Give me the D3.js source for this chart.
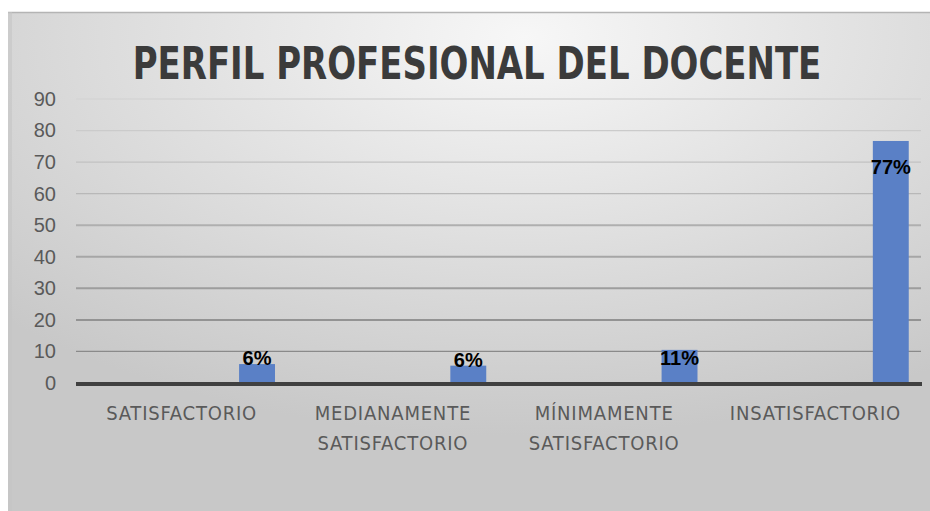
<!DOCTYPE html>
<html>
<head>
<meta charset="utf-8">
<script src="https://cdn.jsdelivr.net/npm/d3@7"></script>
<style>
  body { margin: 0; background: #fff; }
  svg { display: block; }
</style>
</head>
<body>
<svg class="mainSvg" width="930" height="511"></svg>
<script>
// data
var categories = ["SATISFACTORIO", "MEDIANAMENTE SATISFACTORIO", "MÍNIMAMENTE SATISFACTORIO", "INSATISFACTORIO"];
var categoryLines = [["SATISFACTORIO"], ["MEDIANAMENTE", "SATISFACTORIO"], ["MÍNIMAMENTE", "SATISFACTORIO"], ["INSATISFACTORIO"]];
var values = [6, 5.5, 10.5, 76.7];
var yTicks = [0, 10, 20, 30, 40, 50, 60, 70, 80, 90];
var title = "PERFIL PROFESIONAL DEL DOCENTE";

var svg = d3.select(".mainSvg");
var defs = svg.append("defs");

var bg = defs.append("radialGradient")
  .attr("id", "bg")
  .attr("cx", 0.56).attr("cy", 0.05).attr("r", 0.8);
bg.append("stop").attr("offset", "0%").attr("stop-color", "#f7f7f7");
bg.append("stop").attr("offset", "100%").attr("stop-color", "#c8c8c8");

// chart area
svg.append("rect")
  .attr("x", 8).attr("y", 12)
  .attr("width", 922).attr("height", 499)
  .attr("fill", "url(#bg)");
svg.append("line")
  .attr("x1", 8).attr("x2", 930).attr("y1", 12.5).attr("y2", 12.5)
  .attr("stroke", "#b4b4b4").attr("stroke-width", 1.5);
svg.append("rect")
  .attr("x", 8).attr("y", 12).attr("width", 4).attr("height", 499)
  .attr("fill", "#c4c4c4").attr("opacity", 0.6);

var x = d3.scaleBand().domain(categories).range([76, 921]);
var y = d3.scaleLinear().domain([0, 90]).range([383, 99]);

var gridColor = d3.scaleLinear().domain([90, 10]).range(["#d4d4d4", "#8a8a8a"]);

// gridlines
svg.append("g").selectAll("line")
  .data(yTicks.filter(function(d) { return d > 0; }))
  .enter().append("line")
  .attr("x1", 76).attr("x2", 921)
  .attr("y1", function(d) { return y(d); })
  .attr("y2", function(d) { return y(d); })
  .attr("stroke", function(d) { return gridColor(d); })
  .attr("stroke-width", function(d) { return d >= 20 && d <= 50 ? 2 : 1.3; });

// y axis labels
var yAxis = d3.axisLeft(y).tickValues(yTicks).tickSize(0).tickPadding(0);
var yg = svg.append("g").attr("transform", "translate(56,0)").call(yAxis);
yg.select(".domain").remove();
yg.selectAll("text")
  .attr("font-family", "'Liberation Sans', Arial, sans-serif")
  .attr("font-size", 20)
  .attr("fill", "#5a5a5a");

// bars
var barW = x.bandwidth() * 0.17;
svg.append("g").selectAll("rect")
  .data(values)
  .enter().append("rect")
  .attr("x", function(d, i) { return x(categories[i]) + x.bandwidth() * 0.772; })
  .attr("y", function(d) { return y(d); })
  .attr("width", barW)
  .attr("height", function(d) { return y(0) - y(d); })
  .attr("fill", "#5a80c6");

// x axis line
svg.append("line")
  .attr("x1", 76).attr("x2", 922)
  .attr("y1", y(0) + 1).attr("y2", y(0) + 1)
  .attr("stroke", "#404040").attr("stroke-width", 4);

// data labels
svg.append("g").selectAll("text")
  .data(values)
  .enter().append("text")
  .attr("x", function(d, i) { return x(categories[i]) + x.bandwidth() * 0.772 + barW / 2; })
  .attr("y", function(d) {
    var h = y(0) - y(d);
    var c = h < 25 ? y(d) - 6 : y(d) + Math.min(26, h * 0.25);
    return c + 7;
  })
  .attr("text-anchor", "middle")
  .attr("font-family", "'Liberation Sans', Arial, sans-serif")
  .attr("font-weight", "bold")
  .attr("font-size", 20)
  .attr("fill", "#000")
  .text(function(d) { return Math.round(d) + "%"; });

// category labels
var xl = svg.append("g").selectAll("text")
  .data(categories)
  .enter().append("text")
  .attr("x", function(d) { return x(d) + x.bandwidth() / 2; })
  .attr("y", 420)
  .attr("text-anchor", "middle")
  .attr("font-family", "'Liberation Sans Narrow', 'DejaVu Sans Condensed', sans-serif")
  .attr("font-size", 20)
  .attr("letter-spacing", 0.8)
  .attr("fill", "#5a5a5a");
xl.each(function(d, i) {
  var t = d3.select(this);
  categoryLines[i].forEach(function(line, j) {
    t.append("tspan")
      .attr("x", x(d) + x.bandwidth() / 2)
      .attr("dy", j == 0 ? 0 : 30)
      .text(line);
  });
});

// title, squeezed horizontally to the reference width
var tt = svg.append("text")
  .attr("text-anchor", "middle")
  .attr("font-family", "'Liberation Sans Narrow', 'DejaVu Sans Condensed', sans-serif")
  .attr("font-weight", "bold")
  .attr("font-size", 45)
  .attr("fill", "#3b3b3b")
  .text(title);
var sx = 689 / tt.node().getComputedTextLength();
tt.attr("transform", "translate(477,79) scale(" + sx + ",1)");
</script>
</body>
</html>
